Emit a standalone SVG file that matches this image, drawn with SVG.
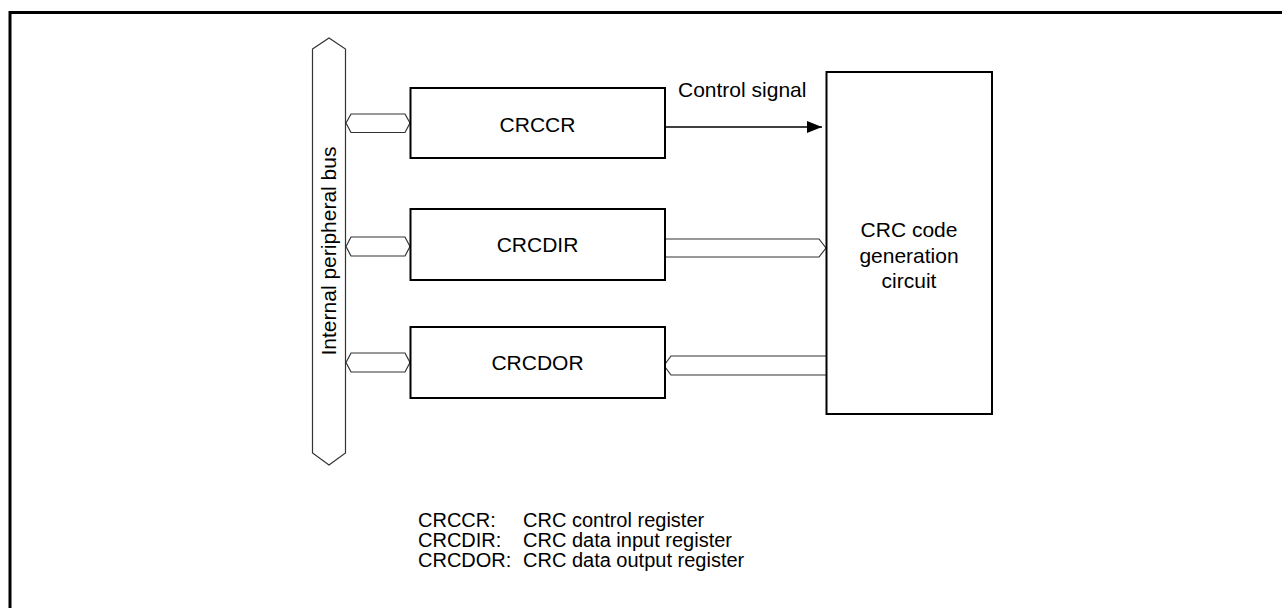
<svg xmlns="http://www.w3.org/2000/svg" width="1282" height="608" viewBox="0 0 1282 608">
<style>
text{font-family:"Liberation Sans",Arial,sans-serif;font-size:21px;fill:#000}
.legend text{font-size:20px}
.box{fill:#fff;stroke:#000;stroke-width:2}
.bus{fill:#fff;stroke:#333;stroke-width:1.2}
.mid{text-anchor:middle}
</style>
<defs>
<marker id="arr" markerWidth="16" markerHeight="12" refX="15" refY="6" orient="auto" markerUnits="userSpaceOnUse">
<path d="M0,0 L15,6 L0,12 Z" fill="#000"/>
</marker>
</defs>
<rect width="1282" height="608" fill="#fff"/>
<path d="M10,612 V12.5 H1290" fill="none" stroke="#000" stroke-width="3"/>
<g id="bus">
<polygon class="bus" points="312.5,49 329,38 345.5,49 345.5,453 329,465 312.5,453"/>
<text class="mid" transform="translate(336,251) rotate(-90)">Internal peripheral bus</text>
</g>
<g id="connectors">
<polygon class="bus" points="346,123 351,114 405,114 410,123 405,132.5 351,132.5"/>
<polygon class="bus" points="346,246.5 351,237 405,237 410,246.5 405,256 351,256"/>
<polygon class="bus" points="346,362.5 351,353 405,353 410,362.5 405,372 351,372"/>
<line x1="665" y1="127" x2="822" y2="127" stroke="#000" stroke-width="1.5" marker-end="url(#arr)"/>
<path class="bus" d="M665,239 H819 L826,248 L819,257 H665"/>
<path class="bus" d="M826,356 H671 L664,365.5 L671,375 H826"/>
</g>
<g id="crccr">
<rect class="box" x="410.5" y="88" width="254.5" height="70"/>
<text class="mid" x="537.5" y="131.5">CRCCR</text>
</g>
<g id="crcdir">
<rect class="box" x="410.5" y="209" width="254.5" height="71"/>
<text class="mid" x="537.5" y="252">CRCDIR</text>
</g>
<g id="crcdor">
<rect class="box" x="410.5" y="327" width="254.5" height="71"/>
<text class="mid" x="537.5" y="370">CRCDOR</text>
</g>
<g id="control-label">
<text x="678" y="97">Control signal</text>
</g>
<g id="crc-circuit">
<rect class="box" x="826.5" y="72" width="165.5" height="342"/>
<text class="mid" x="909" y="237">CRC code</text>
<text class="mid" x="909" y="262.5">generation</text>
<text class="mid" x="909" y="288">circuit</text>
</g>
<g id="legend" class="legend">
<text x="418" y="527">CRCCR:<tspan x="523">CRC control register</tspan></text>
<text x="418" y="547">CRCDIR:<tspan x="523">CRC data input register</tspan></text>
<text x="418" y="567">CRCDOR:<tspan x="523">CRC data output register</tspan></text>
</g>
</svg>
